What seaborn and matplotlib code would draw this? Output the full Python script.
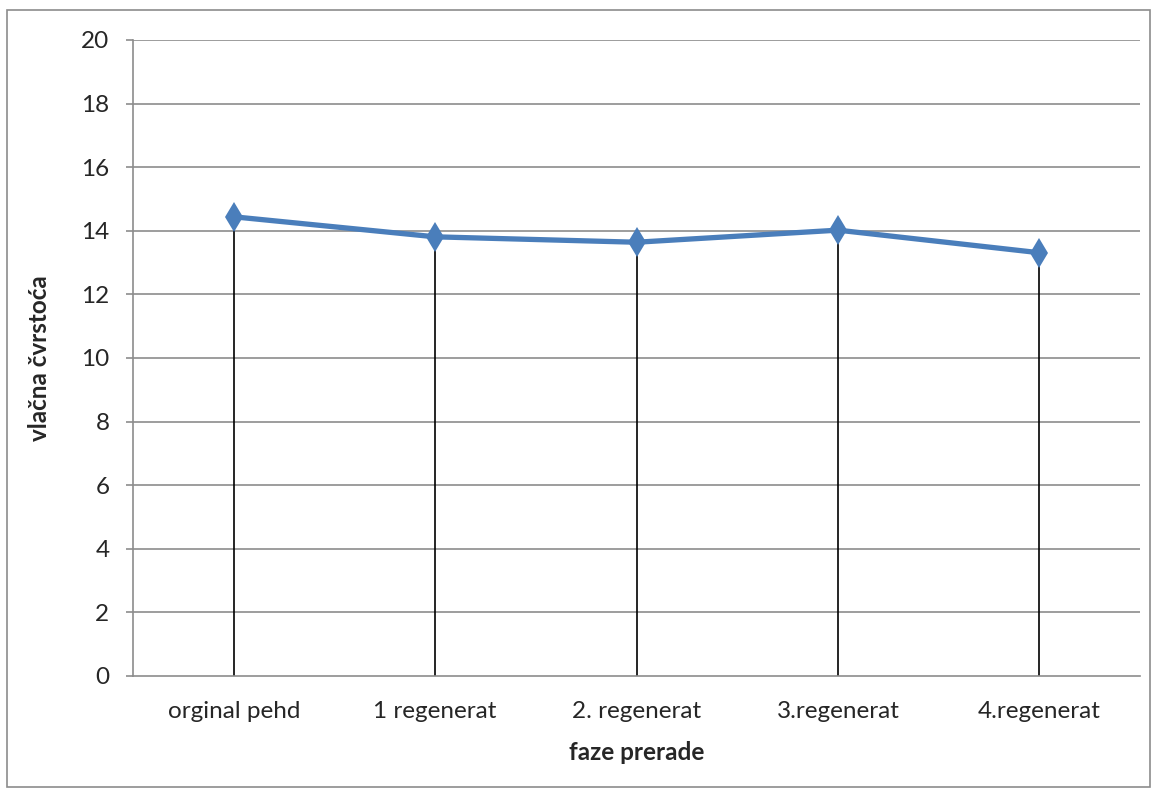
import matplotlib
matplotlib.use("Agg")
import matplotlib.pyplot as plt
import seaborn as sns
import pandas as pd
from matplotlib.patches import Rectangle

categories = ["orginal pehd", "1 regenerat", "2. regenerat", "3.regenerat", "4.regenerat"]
values = [14.44, 13.81, 13.64, 14.02, 13.31]
yticks = [0, 2, 4, 6, 8, 10, 12, 14, 16, 18, 20]

sns.set_theme(style="white")
plt.rcParams['font.family'] = ['Lato', 'DejaVu Sans']

df = pd.DataFrame({"faze": categories, "val": values, "x": range(len(categories))})

fig = plt.figure(figsize=(11.58, 7.92), dpi=100)
ax = fig.add_axes([0.1149, 0.1465, 0.8696, 0.803])

for y in yticks[1:]:
    ax.axhline(y, color="#8c8c8c", lw=1.2, zorder=0)

ax.vlines(df["x"], 0, df["val"], color="black", lw=1.2, zorder=1)
sns.lineplot(data=df, x="x", y="val", ax=ax, color="#4a7ebb", lw=3.8,
             marker="d", markersize=15, markeredgewidth=0, zorder=3)

ax.set_xlim(-0.5, len(categories) - 0.5)
ax.set_ylim(0, 20)
ax.set_yticks(yticks)
ax.set_yticklabels([str(v) for v in yticks], fontsize=17.5)
ax.set_xticks(range(len(categories)))
ax.set_xticklabels(categories, fontsize=17.5)
ax.tick_params(axis="x", length=0, pad=18)
ax.tick_params(axis="y", length=5, width=1.2, color="#8c8c8c", direction="out", pad=12, left=True)
for s in ["top", "right"]:
    ax.spines[s].set_visible(False)
ax.spines["left"].set_color("#8c8c8c")
ax.spines["bottom"].set_color("#8c8c8c")
ax.spines["left"].set_linewidth(1.2)
ax.spines["bottom"].set_linewidth(1.2)

ax.set_xlabel("faze prerade", fontsize=17.5, fontweight="bold", labelpad=14)
ax.set_ylabel("vlačna čvrstoća", fontsize=17.5, fontweight="bold", labelpad=22)

fig.patches.append(Rectangle((7/1158, 5/792), 1143/1158, 777/792, transform=fig.transFigure,
                             fill=False, edgecolor="#8c8c8c", lw=1.2))

fig.savefig("out.png", dpi=100)
